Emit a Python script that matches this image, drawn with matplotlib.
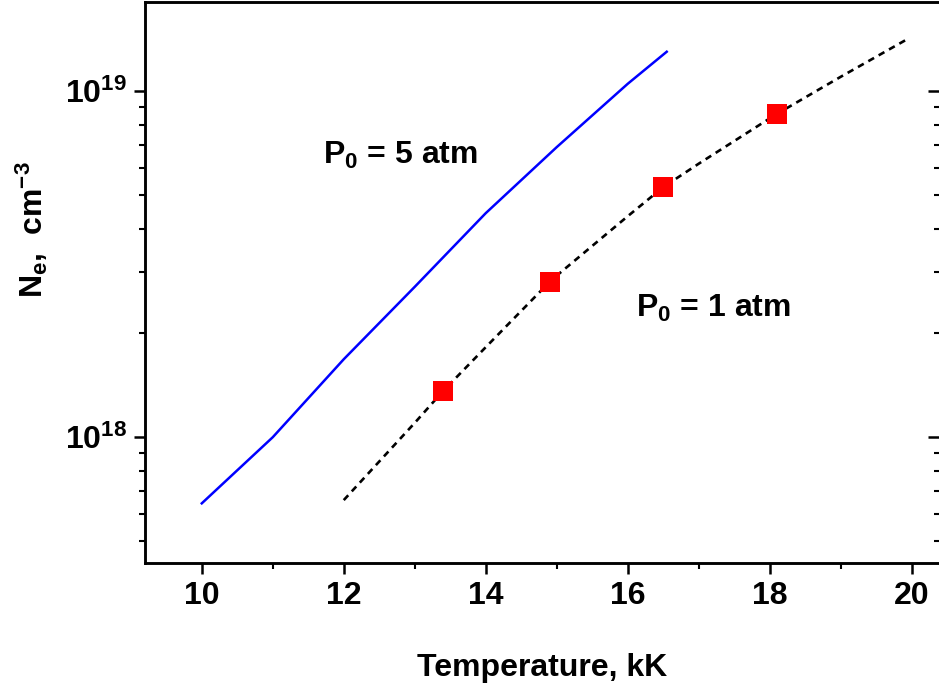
import math

import matplotlib

matplotlib.use("Agg")

import matplotlib.pyplot as plt
from matplotlib.ticker import FixedLocator, FuncFormatter, LogLocator, NullFormatter

plt.rcParams["font.family"] = ["Liberation Sans", "DejaVu Sans"]
plt.rcParams["font.weight"] = "bold"
plt.rcParams["mathtext.fontset"] = "custom"
plt.rcParams["mathtext.rm"] = "Liberation Sans:bold"
plt.rcParams["mathtext.bf"] = "Liberation Sans:bold"
plt.rcParams["mathtext.it"] = "Liberation Sans:bold"

# P0 = 5 atm (blue solid)
t_5atm = [10, 11, 12, 13, 14, 15, 16, 16.55]
ne_5atm = [6.44e17, 1.0e18, 1.68e18, 2.72e18, 4.44e18, 6.89e18, 1.05e19, 1.30e19]

# P0 = 1 atm (black dotted)
t_1atm = [12, 13, 13.4, 14, 14.9, 15, 16, 16.5, 17, 18, 18.1, 19, 19.93]
ne_1atm = [6.58e17, 1.10e18, 1.36e18, 1.82e18, 2.81e18, 2.93e18, 4.35e18, 5.28e18,
           6.17e18, 8.34e18, 8.59e18, 1.10e19, 1.41e19]

# measured points (red squares)
t_meas = [13.4, 14.9, 16.5, 18.1]
ne_meas = [1.36e18, 2.81e18, 5.28e18, 8.59e18]

xlim = (9.2, 20.4)
ylim = (4.33e17, 1.81e19)

fig = plt.figure(figsize=(9.39, 6.87), dpi=100)
ax = fig.add_axes([145 / 939, 124 / 687, 795 / 939, 561 / 687])

ax.plot(t_5atm, ne_5atm, color="#0000ff", lw=1.8)
ax.plot(t_1atm, ne_1atm, color="black", lw=1.9, ls=(0, (2.5, 2.0)))
ax.plot(t_meas, ne_meas, ls="none", marker="s", ms=15, color="#ff0000",
        markeredgewidth=0)

ax.set_yscale("log")
ax.set_xlim(*xlim)
ax.set_ylim(*ylim)

ax.xaxis.set_major_locator(FixedLocator([10, 12, 14, 16, 18, 20]))
ax.xaxis.set_minor_locator(FixedLocator([11, 13, 15, 17, 19]))
ax.yaxis.set_major_locator(LogLocator(base=10, numticks=10))
ax.yaxis.set_minor_locator(LogLocator(base=10, subs=range(2, 10), numticks=10))
ax.yaxis.set_major_formatter(FuncFormatter(lambda v, p: r"$\mathbf{10^{%d}}$" % round(math.log10(v))))
ax.yaxis.set_minor_formatter(NullFormatter())

for s in ax.spines.values():
    s.set_linewidth(1.8)

ax.tick_params(which="major", direction="out", length=8, width=1.8, labelsize=23, pad=5)
ax.tick_params(which="minor", direction="out", length=4, width=1.5)
ax.tick_params(top=False, right=False, which="both")

ax2 = ax.twinx()
ax2.set_yscale("log")
ax2.set_ylim(*ylim)
ax2.yaxis.set_major_locator(LogLocator(base=10, numticks=10))
ax2.yaxis.set_minor_locator(LogLocator(base=10, subs=range(2, 10), numticks=10))
ax2.tick_params(which="major", direction="in", length=9, width=1.8, labelright=False)
ax2.tick_params(which="minor", direction="in", length=4, width=1.5, labelright=False)
ax2.yaxis.set_major_formatter(NullFormatter())
ax2.yaxis.set_minor_formatter(NullFormatter())
for s in ax2.spines.values():
    s.set_linewidth(1.8)

ax.set_xlabel("Temperature, kK", fontsize=23, fontweight="bold", labelpad=30)
ax.set_ylabel(r"N$_\mathregular{e}$,  cm$^\mathregular{-3}$", fontsize=23, fontweight="bold")
ax.yaxis.set_label_coords(-0.12, 0.594)

ax.text(11.71, 6.18e18, r"P$_\mathregular{0}$ = 5 atm", fontsize=23, fontweight="bold", va="baseline")
ax.text(16.12, 2.23e18, r"P$_\mathregular{0}$ = 1 atm", fontsize=23, fontweight="bold", va="baseline")

fig.savefig("out.png", dpi=100)
